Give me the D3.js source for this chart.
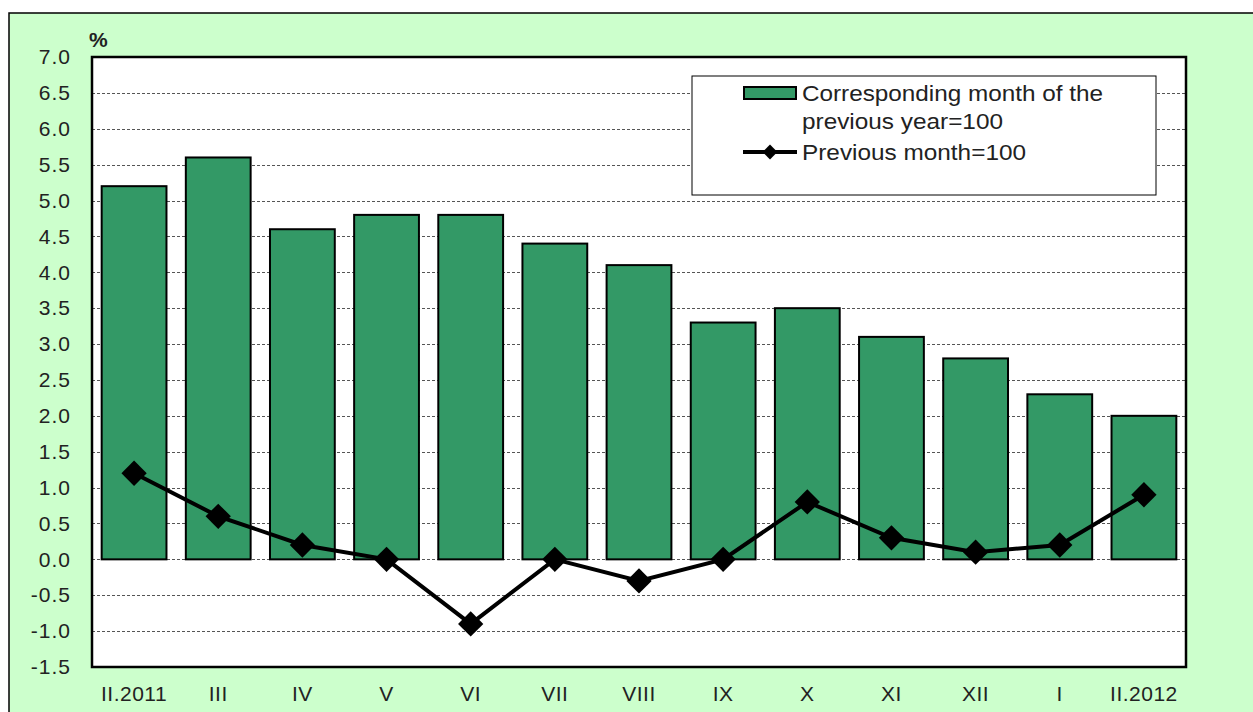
<!DOCTYPE html>
<html>
<head>
<meta charset="utf-8">
<script src="https://cdn.jsdelivr.net/npm/d3@7"></script>
<style>
  body { margin: 0; background: #fff; }
  text { font-family: Arial, "Liberation Sans", sans-serif; fill: #222; }
</style>
</head>
<body>
<div class="chart"></div>
<script>
var categories = ["II.2011", "III", "IV", "V", "VI", "VII", "VIII", "IX", "X", "XI", "XII", "I", "II.2012"];
var yearOnYear = [5.2, 5.6, 4.6, 4.8, 4.8, 4.4, 4.1, 3.3, 3.5, 3.1, 2.8, 2.3, 2.0];
var monthOnMonth = [1.2, 0.6, 0.2, 0.0, -0.9, 0.0, -0.3, 0.0, 0.8, 0.3, 0.1, 0.2, 0.9];
var yTicks = [-1.5, -1.0, -0.5, 0, 0.5, 1.0, 1.5, 2.0, 2.5, 3.0, 3.5, 4.0, 4.5, 5.0, 5.5, 6.0, 6.5, 7.0];
var legendLabels = [["Corresponding month of the", "previous year=100"], ["Previous month=100"]];

var width = 1253, height = 712;
var plotLeft = 92, plotRight = 1186, plotTop = 57, plotBottom = 667;

var svg = d3.select(".chart").append("svg")
    .attr("width", width)
    .attr("height", height);

// green panel
svg.append("rect")
    .attr("x", 9).attr("y", 13)
    .attr("width", width - 9 + 5).attr("height", height - 13 + 5)
    .attr("fill", "#ccffcc")
    .attr("stroke", "#000").attr("stroke-width", 1.5);

var x = d3.scaleBand()
    .domain(categories)
    .range([plotLeft, plotRight])
    .paddingInner(0.23)
    .paddingOuter(0.115);

var y = d3.scaleLinear()
    .domain([-1.5, 7.0])
    .range([plotBottom, plotTop]);

// plot background
svg.append("rect")
    .attr("x", plotLeft).attr("y", plotTop)
    .attr("width", plotRight - plotLeft).attr("height", plotBottom - plotTop)
    .attr("fill", "#fff");

// gridlines
svg.append("g")
    .selectAll("line")
    .data(yTicks.filter(function(d){ return d > -1.5 && d < 7.0; }))
    .enter().append("line")
    .attr("x1", plotLeft).attr("x2", plotRight)
    .attr("y1", function(d){ return Math.round(y(d)) + 0.5; })
    .attr("y2", function(d){ return Math.round(y(d)) + 0.5; })
    .attr("stroke", "#555")
    .attr("stroke-width", 1)
    .attr("stroke-dasharray", "3,2");

// bars
svg.append("g")
    .selectAll("rect")
    .data(yearOnYear)
    .enter().append("rect")
    .attr("x", function(d, i){ return x(categories[i]); })
    .attr("y", function(d){ return y(d); })
    .attr("width", x.bandwidth())
    .attr("height", function(d){ return y(0) - y(d); })
    .attr("fill", "#339966")
    .attr("stroke", "#000")
    .attr("stroke-width", 2);

// line
var line = d3.line()
    .x(function(d, i){ return x(categories[i]) + x.bandwidth() / 2; })
    .y(function(d){ return y(d); });

svg.append("path")
    .datum(monthOnMonth)
    .attr("d", line)
    .attr("fill", "none")
    .attr("stroke", "#000")
    .attr("stroke-width", 4);

var diamond = d3.symbol().type(d3.symbolSquare).size(320);
svg.append("g")
    .selectAll("path")
    .data(monthOnMonth)
    .enter().append("path")
    .attr("d", diamond)
    .attr("transform", function(d, i){
        return "translate(" + (x(categories[i]) + x.bandwidth() / 2) + "," + y(d) + ") rotate(45)";
    })
    .attr("fill", "#000");

// plot border
svg.append("rect")
    .attr("x", plotLeft).attr("y", plotTop)
    .attr("width", plotRight - plotLeft).attr("height", plotBottom - plotTop)
    .attr("fill", "none")
    .attr("stroke", "#000")
    .attr("stroke-width", 2.5);

// y axis labels (plain hyphen for negatives, like the original)
var yAxis = d3.axisLeft(y)
    .tickValues(yTicks)
    .tickSize(0)
    .tickPadding(21)
    .tickFormat(function(d){ return d.toFixed(1); });

var gy = svg.append("g")
    .attr("transform", "translate(" + plotLeft + ",0)")
    .call(yAxis);
gy.select(".domain").remove();
gy.selectAll("text")
    .style("font-size", "21px")
    .style("letter-spacing", "1px")
    .attr("fill", "#222");

svg.append("text")
    .attr("x", 89).attr("y", 47)
    .style("font-size", "21px")
    .style("font-weight", "bold")
    .text("%");

// x axis labels
var xAxis = d3.axisBottom(x).tickSize(0).tickPadding(19);
var gx = svg.append("g")
    .attr("transform", "translate(0," + plotBottom + ")")
    .call(xAxis);
gx.select(".domain").remove();
gx.selectAll("text")
    .style("font-size", "21px")
    .style("letter-spacing", "0.5px")
    .attr("fill", "#222");

// legend
var legend = svg.append("g");
legend.append("rect")
    .attr("x", 692).attr("y", 76)
    .attr("width", 464).attr("height", 119)
    .attr("fill", "#fff")
    .attr("stroke", "#000").attr("stroke-width", 1);

legend.append("rect")
    .attr("x", 744).attr("y", 87)
    .attr("width", 52).attr("height", 12)
    .attr("fill", "#339966")
    .attr("stroke", "#000").attr("stroke-width", 2);

legend.append("line")
    .attr("x1", 743).attr("x2", 797)
    .attr("y1", 152).attr("y2", 152)
    .attr("stroke", "#000").attr("stroke-width", 4);
legend.append("path")
    .attr("d", d3.symbol().type(d3.symbolSquare).size(110))
    .attr("transform", "translate(770,152) rotate(45)")
    .attr("fill", "#000");

var legendLengths = [[301, 201], [224]];
legend.append("text")
    .style("font-size", "22px")
    .selectAll("tspan")
    .data(legendLabels[0])
    .enter().append("tspan")
    .attr("x", 802)
    .attr("y", function(d, i){ return 101 + i * 28; })
    .attr("textLength", function(d, i){ return legendLengths[0][i]; })
    .attr("lengthAdjust", "spacingAndGlyphs")
    .text(function(d){ return d; });

legend.append("text")
    .attr("x", 802).attr("y", 160)
    .style("font-size", "22px")
    .attr("textLength", legendLengths[1][0])
    .attr("lengthAdjust", "spacingAndGlyphs")
    .text(legendLabels[1][0]);
</script>
</body>
</html>
